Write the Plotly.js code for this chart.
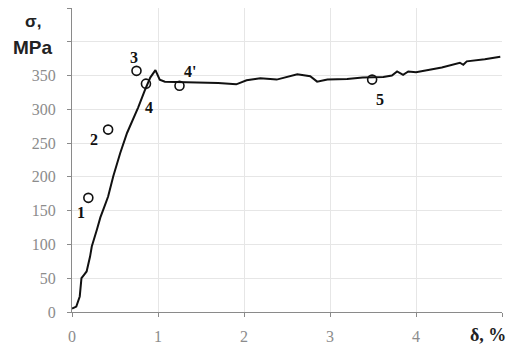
<!DOCTYPE html>
<html>
<head>
<meta charset="utf-8">
<script src="https://cdn.plot.ly/plotly-3.0.1.min.js"></script>
<style>html,body{margin:0;padding:0;background:#fff;}#chart{width:511px;height:350px;}</style>
</head>
<body>
<div id="chart"></div>
<script>
// Stress-strain curve
const strain = [0, 0.05, 0.09, 0.11, 0.14, 0.17, 0.21, 0.23, 0.29, 0.33, 0.38, 0.42, 0.48, 0.56, 0.64, 0.71, 0.77, 0.85, 0.91, 0.97, 1.02, 1.08, 1.3, 1.5, 1.7, 1.91, 2.03, 2.19, 2.38, 2.62, 2.77, 2.85, 2.97, 3.2, 3.38, 3.62, 3.72, 3.78, 3.85, 3.91, 4.0, 4.3, 4.51, 4.55, 4.59, 4.8, 4.98];
const stress = [5, 8, 23, 50, 55, 60, 82, 97, 122, 140, 157, 171, 201, 235, 265, 285, 303, 329, 347, 358, 344, 341, 340, 340, 339, 337, 343, 346, 344, 352, 349, 341, 344, 345, 347, 348, 350, 356, 351, 356, 355, 362, 369, 366, 371, 374, 378];
// Marked points
const ptLabels = ["1", "2", "3", "4", "4'", "5"];
const ptStrain = [0.19, 0.42, 0.75, 0.86, 1.25, 3.49];
const ptStress = [169, 270, 357, 338, 335, 344];
// Label positions
const lblStrain = [0.1, 0.25, 0.72, 0.89, 1.37, 3.58];
const lblStress = [147, 255, 377, 303, 356, 315];
// Ticks
const xTickVals = [0, 1, 2, 3, 4, 5];
const xTickText = ["0", "1", "2", "3", "4", ""];
const yTickVals = [0, 50, 100, 150, 200, 250, 300, 350, 400, 450];
const yTickText = ["0", "50", "100", "150", "200", "250", "300", "350", "", ""];

const traces = [
  {x: strain, y: stress, mode: "lines", type: "scatter",
   line: {color: "#111", width: 2}, hoverinfo: "skip"},
  {x: ptStrain, y: ptStress, mode: "markers", type: "scatter",
   marker: {symbol: "circle-open", size: 9, color: "#111", line: {width: 1.6, color: "#111"}}}
];

const annotations = ptLabels.map((t, i) => ({
  x: lblStrain[i], y: lblStress[i], xref: "x", yref: "y", text: "<b>" + t + "</b>", showarrow: false,
  font: {family: "Liberation Serif", size: 16, color: "#111"}
}));
annotations.push({xref: "paper", yref: "paper", x: -0.09, y: 0.955, text: "<b>σ,</b>", showarrow: false,
  xanchor: "center", yanchor: "middle", font: {family: "Liberation Sans", size: 17, color: "#222"}});
annotations.push({xref: "paper", yref: "paper", x: -0.09, y: 0.87, text: "<b>MPa</b>", showarrow: false,
  xanchor: "center", yanchor: "middle", font: {family: "Liberation Sans", size: 19, color: "#222"}});
annotations.push({xref: "paper", yref: "paper", x: 1.015, y: -0.075, text: "<b>δ, %</b>", showarrow: false,
  xanchor: "right", yanchor: "middle", font: {family: "Liberation Serif", size: 18, color: "#222"}});

const layout = {
  width: 511, height: 350,
  margin: {l: 72, r: 9, t: 8, b: 38},
  paper_bgcolor: "#fff", plot_bgcolor: "#fff",
  showlegend: false,
  xaxis: {range: [0, 5], tickvals: xTickVals, ticktext: xTickText,
    showgrid: true, gridcolor: "#e6e6e6", gridwidth: 1,
    showline: true, linecolor: "#8a8a8a", linewidth: 1,
    ticks: "outside", ticklen: 4, tickcolor: "#8a8a8a",
    ticklabelstandoff: 6,
    zeroline: false,
    tickfont: {family: "Liberation Serif", size: 16, color: "#8c8c8c"}},
  yaxis: {range: [0, 450], tickvals: yTickVals, ticktext: yTickText,
    showgrid: true, gridcolor: "#e6e6e6", gridwidth: 1,
    showline: true, linecolor: "#8a8a8a", linewidth: 1,
    ticks: "outside", ticklen: 4, tickcolor: "#8a8a8a",
    ticklabelstandoff: 8,
    zeroline: false,
    tickfont: {family: "Liberation Serif", size: 16, color: "#8c8c8c"}},
  annotations: annotations
};

Plotly.newPlot("chart", traces, layout, {staticPlot: true, displayModeBar: false});
</script>
</body>
</html>
